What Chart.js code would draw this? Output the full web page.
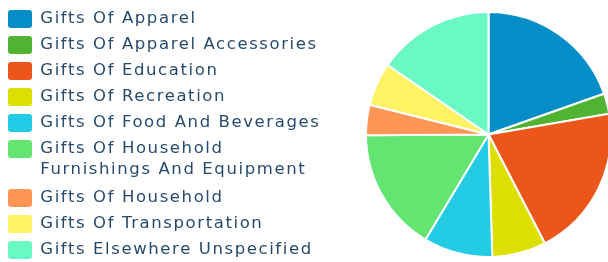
<!DOCTYPE html>
<html>
<head>
<meta charset="utf-8">
<script src="https://cdn.jsdelivr.net/npm/chart.js@4"></script>
<style>
  html, body { margin: 0; padding: 0; background: #fff; overflow: hidden; }
  #wrap { width: 608px; height: 262px; overflow: hidden; }
  canvas { display: block; }
</style>
</head>
<body>
<div id="wrap">
  <canvas id="giftsChart" width="613" height="290" style="width:613px;height:290px"></canvas>
</div>
<script>
// Categories, with the long one split over two lines like the original legend
const categories = [
    'Gifts Of Apparel',
    'Gifts Of Apparel Accessories',
    'Gifts Of Education',
    'Gifts Of Recreation',
    'Gifts Of Food And Beverages',
    ['Gifts Of Household', 'Furnishings And Equipment'],
    'Gifts Of Household',
    'Gifts Of Transportation',
    'Gifts Elsewhere Unspecified'
];

// Share of each category (percent)
const shares = [19.6, 2.7, 20.1, 7.1, 9.1, 16.3, 4.0, 5.7, 15.4];

const sliceColors = [
    '#058DC7', '#50B432', '#ED561B', '#DDDF00', '#24CBE5',
    '#64E572', '#FF9655', '#FFF263', '#6AF9C4'
];

const LEGEND_WIDTH = 365;

// Legend box width is forced so the pie sits where it does in the original
const legendSizer = {
    id: 'legendSizer',
    beforeLayout(chart) {
        const lg = chart.legend;
        if (lg && !lg._sized) {
            const fit = lg.fit;
            lg.fit = function() {
                this.maxHeight = Math.max(this.maxHeight, 400);
                fit.call(this);
                this.width = LEGEND_WIDTH;
            };
            lg._sized = true;
        }
    },
    beforeDraw(chart) {
        chart.ctx.letterSpacing = '1.6px';
    }
};

const baseLabels = Chart.overrides.doughnut.plugins.legend.labels.generateLabels;

new Chart(document.getElementById('giftsChart'), {
    type: 'pie',
    data: {
        labels: categories,
        datasets: [{
            data: shares,
            backgroundColor: sliceColors,
            borderColor: '#ffffff',
            borderWidth: 2
        }]
    },
    options: {
        responsive: false,
        animation: false,
        layout: {
            padding: { top: 2, bottom: 1, left: 0, right: 1 }
        },
        plugins: {
            tooltip: { enabled: false },
            // blank bottom title: shrinks the pie area, legend keeps full height
            title: {
                display: true,
                text: ' ',
                position: 'bottom',
                fullSize: false,
                font: { size: 10, lineHeight: 1 },
                padding: 6
            },
            legend: {
                position: 'left',
                align: 'start',
                labels: {
                    boxWidth: 24,
                    boxHeight: 18,
                    padding: 8,
                    color: '#274b6d',
                    font: { family: 'DejaVu Sans', size: 16.5, lineHeight: '20.5px' },
                    generateLabels: (chart) => baseLabels(chart).map(item => ({
                        ...item,
                        lineWidth: 0,
                        borderRadius: 3
                    }))
                }
            }
        }
    },
    plugins: [legendSizer]
});
</script>
</body>
</html>
